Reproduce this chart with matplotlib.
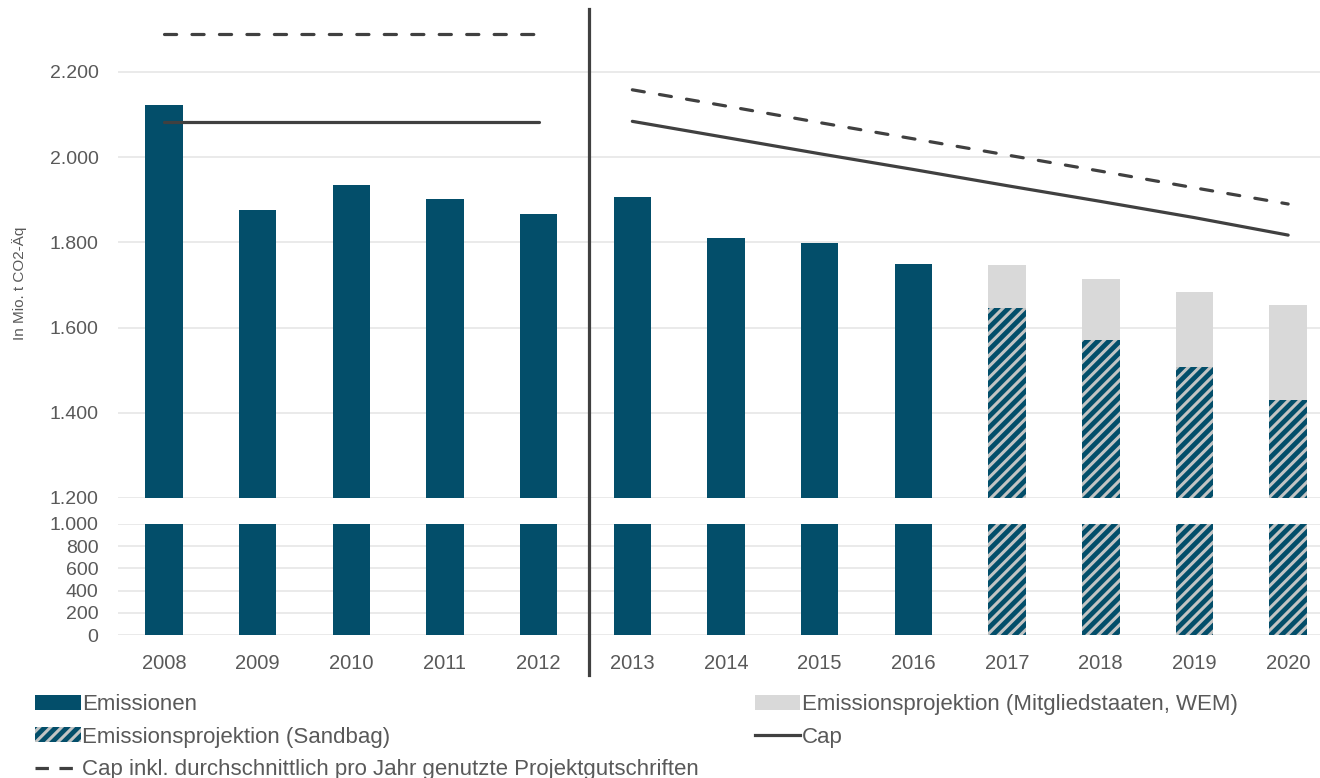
import matplotlib
matplotlib.use("Agg")
import matplotlib.pyplot as plt
from matplotlib.patches import Patch
from matplotlib.lines import Line2D
from matplotlib.transforms import blended_transform_factory
import numpy as np

plt.rcParams['font.family'] = ['Liberation Sans', 'DejaVu Sans']
plt.rcParams['hatch.linewidth'] = 2.2

# data (Mio. t CO2-Äq)
years = ['2008', '2009', '2010', '2011', '2012', '2013', '2014',
         '2015', '2016', '2017', '2018', '2019', '2020']
emissionen = [2122, 1876, 1935, 1902, 1867, 1907, 1810, 1799, 1749,
              None, None, None, None]
proj_wem = [None] * 9 + [1747, 1714, 1684, 1653]
proj_sandbag = [None] * 9 + [1646, 1571, 1508, 1430]

cap_p2_years = ['2008', '2012']
cap_p2 = [2083, 2083]
cap_p2_credits = [2290, 2290]

cap_p3_years = ['2013', '2014', '2015', '2016', '2017', '2018', '2019', '2020']
cap_p3 = [2084, 2046, 2008, 1971, 1933, 1896, 1858, 1817]
cap_p3_credits = [2158, 2120, 2081, 2043, 2005, 1967, 1928, 1890]

C_EMI = '#034E6A'
C_WEM = '#D9D9D9'
C_HATCH = '#C2C4C4'
C_LINE = '#404040'
C_TEXT = '#595959'
C_GRID = '#E6E6E6'

fig = plt.figure(figsize=(13.2, 7.78), dpi=100)
W, H = 1320, 778
left = 118 / W
width = 1 - left
ax_top = fig.add_axes([left, 1 - 498 / H, width, (498 - 8) / H])
ax_bot = fig.add_axes([left, 1 - 635 / H, width, (635 - 524) / H])

x = np.arange(len(years))
pos = {y: i for i, y in enumerate(years)}
bw = 0.4
low_top, low_bot = 1200, 1000


def vals(lst, base):
    return np.array([np.nan if v is None else v - base for v in lst], dtype=float)


# top axis: bars start at 1200
ax_top.bar(x, vals(emissionen, low_top), bw, bottom=low_top, color=C_EMI, zorder=2)
ax_top.bar(x, vals(proj_wem, low_top), bw, bottom=low_top, color=C_WEM, zorder=2)
ax_top.bar(x, vals(proj_sandbag, low_top), bw, bottom=low_top, facecolor=C_EMI,
           edgecolor=C_HATCH, linewidth=0, hatch='///', zorder=3)

# bottom axis: bars cut at 1000
full_emi = [low_bot if v is not None else np.nan for v in emissionen]
full_sb = [low_bot if v is not None else np.nan for v in proj_sandbag]
ax_bot.bar(x, full_emi, bw, color=C_EMI, zorder=2)
ax_bot.bar(x, full_sb, bw, facecolor=C_EMI, edgecolor=C_HATCH, linewidth=0,
           hatch='///', zorder=3)

# cap lines
dash = (0, (3.8, 4.8))
for yrs, cap, capc in [(cap_p2_years, cap_p2, cap_p2_credits),
                       (cap_p3_years, cap_p3, cap_p3_credits)]:
    xs = [pos[y] for y in yrs]
    ax_top.plot(xs, cap, color=C_LINE, lw=2.3, solid_capstyle='round', zorder=4)
    ax_top.plot(xs, capc, color=C_LINE, lw=2.3, linestyle=dash,
                dash_capstyle='round', zorder=4)

# axis styling
ax_top.set_ylim(1200, 2350)
ax_top.set_yticks(np.arange(1200, 2201, 200))
ax_top.set_yticklabels([f'{v:,}'.replace(',', '.') for v in range(1200, 2201, 200)])
ax_bot.set_ylim(0, 1000)
ax_bot.set_yticks(np.arange(0, 1001, 200))
ax_bot.set_yticklabels([f'{v:,}'.replace(',', '.') for v in range(0, 1001, 200)])

for ax in (ax_top, ax_bot):
    ax.set_xlim(-0.49, 12.34)
    for s in ax.spines.values():
        s.set_visible(False)
    ax.grid(axis='y', color=C_GRID, linewidth=1.2, zorder=0)
    ax.set_axisbelow(True)
    ax.tick_params(axis='y', length=0, pad=14, labelsize=14, labelcolor=C_TEXT)
    ax.patch.set_alpha(0)

ax_top.set_xticks([])
ax_bot.set_xticks(x)
ax_bot.set_xticklabels(years)
ax_bot.tick_params(axis='x', length=0, pad=14, labelsize=14.5, labelcolor=C_TEXT)

# separator between trading periods
sep = Line2D([4.54, 4.54], [1 - 9 / H, 1 - 675 / H], color=C_LINE, lw=2.3,
             transform=blended_transform_factory(ax_top.transData, fig.transFigure),
             zorder=10)
fig.add_artist(sep)

fig.text(20 / W, 1 - 283 / H, 'In Mio. t CO2-Äq', rotation=90, ha='center',
         va='center', fontsize=11, color=C_TEXT)

handles = [
    Patch(facecolor=C_EMI),
    Patch(facecolor=C_EMI, edgecolor=C_HATCH, linewidth=0, hatch='///'),
    Line2D([], [], color=C_LINE, lw=2.3, linestyle=(0, (4.2, 3.3))),
    Patch(facecolor=C_WEM),
    Line2D([], [], color=C_LINE, lw=2.3),
]
labels = ['Emissionen', 'Emissionsprojektion (Sandbag)',
          'Cap inkl. durchschnittlich pro Jahr genutzte Projektgutschriften',
          'Emissionsprojektion (Mitgliedstaaten, WEM)', 'Cap']
leg = fig.legend(handles, labels, ncol=2, loc='upper left',
                 bbox_to_anchor=(35 / W, 1 - 694 / H), frameon=False,
                 fontsize=16, labelcolor=C_TEXT, handlelength=2.05,
                 handleheight=0.65, handletextpad=0.08, labelspacing=0.52,
                 columnspacing=2.5, borderpad=0, borderaxespad=0)

fig.savefig('out.png', dpi=100)
